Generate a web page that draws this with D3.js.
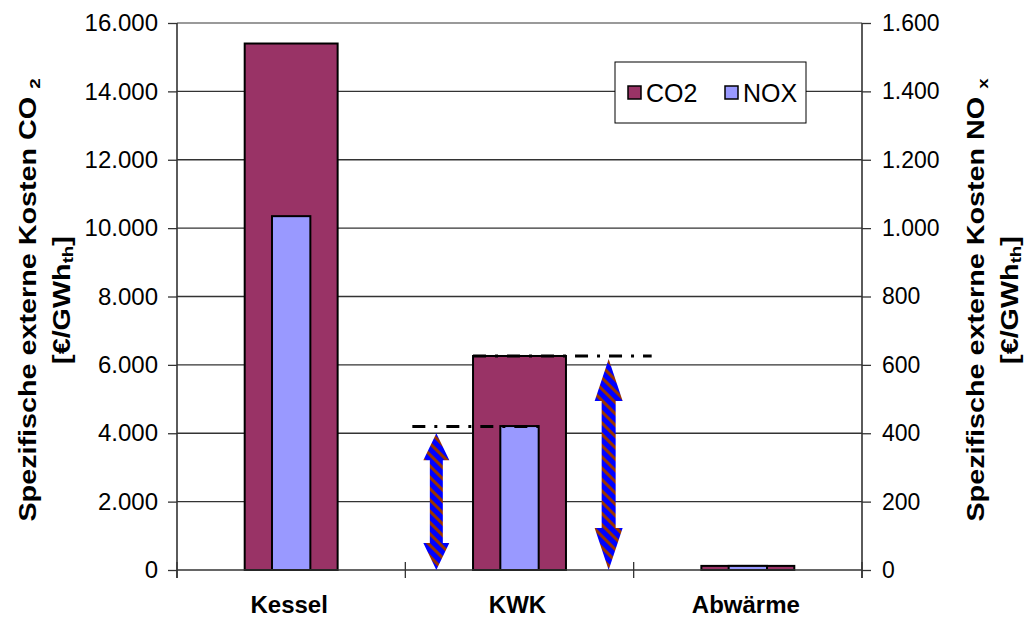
<!DOCTYPE html>
<html>
<head>
<meta charset="utf-8">
<script src="https://cdn.jsdelivr.net/npm/d3@7"></script>
<style>
  body { margin: 0; background: #fff; }
  svg { font-family: Arial, "Liberation Sans", sans-serif; }
</style>
</head>
<body>
<svg id="chart"></svg>
<script>
// data
var categories = ['Kessel', 'KWK', 'Abwärme'];
var co2 = [15400, 6260, 120];     // left axis, €/GWh_th
var nox = [1035, 421, 12];        // right axis, €/GWh_th
var leftTicks = [0, 2000, 4000, 6000, 8000, 10000, 12000, 14000, 16000];
var rightTicks = [0, 200, 400, 600, 800, 1000, 1200, 1400, 1600];
// reference levels (dash-dot) and the arrows under them
var refLevels = [4200, 6260];     // left-axis values
var arrowTops = [4000, 6170];

var W = 1027, H = 620;
var pL = 177, pR = 862, pT = 23, pB = 570;

var svg = d3.select('#chart').attr('width', W).attr('height', H);

var x = d3.scaleBand().domain(categories).range([pL, pR]);
var yL = d3.scaleLinear().domain([0, 16000]).range([pB, pT]);
var yR = d3.scaleLinear().domain([0, 1600]).range([pB, pT]);
var fmt = d3.format(',.0f');
var de = function(v){ return fmt(v).replace(/,/g, '.'); };

// stripe pattern for arrows
var defs = svg.append('defs');
var pat = defs.append('pattern')
  .attr('id', 'stripes')
  .attr('patternUnits', 'userSpaceOnUse')
  .attr('width', 8).attr('height', 8)
  .attr('patternTransform', 'rotate(45)');
pat.append('rect').attr('width', 8).attr('height', 8).attr('fill', '#0000ff');
pat.append('rect').attr('width', 8).attr('height', 3).attr('fill', '#993300');

// gridlines
svg.append('g').selectAll('line')
  .data(leftTicks.filter(d => d > 0))
  .enter().append('line')
  .attr('x1', pL).attr('x2', pR)
  .attr('y1', d => yL(d)).attr('y2', d => yL(d))
  .attr('stroke', d => d == 16000 ? '#9a9a9a' : '#333')
  .attr('stroke-width', d => d == 16000 ? 2 : 1.3);

// left axis
var axL = svg.append('g')
  .attr('transform', 'translate(' + pL + ',0)')
  .call(d3.axisLeft(yL).tickValues(leftTicks).tickFormat(de).tickSize(9).tickPadding(10));
axL.select('.domain').attr('stroke', '#333').attr('stroke-width', 1.6).attr('d', 'M0,' + pT + 'V' + (pB + 8));
axL.selectAll('.tick line').attr('stroke', '#333').attr('stroke-width', 1.3);
axL.selectAll('text').attr('font-size', 24).attr('fill', '#000').attr('font-family', 'Arial, "Liberation Sans", sans-serif');

// right axis
var axR = svg.append('g')
  .attr('transform', 'translate(' + pR + ',0)')
  .call(d3.axisRight(yR).tickValues(rightTicks).tickFormat(de).tickSize(9).tickPadding(11));
axR.select('.domain').attr('stroke', '#333').attr('stroke-width', 1.6).attr('d', 'M0,' + pT + 'V' + (pB + 8));
axR.selectAll('.tick line').attr('stroke', '#333').attr('stroke-width', 1.3);
axR.selectAll('text').attr('font-size', 23).attr('fill', '#000').attr('font-family', 'Arial, "Liberation Sans", sans-serif');

// bars
var bw = x.bandwidth();
var co2W = bw * 0.407, noxW = bw * 0.168;
svg.append('g').selectAll('rect')
  .data(co2).enter().append('rect')
  .attr('x', (d, i) => x(categories[i]) + (bw - co2W) / 2)
  .attr('y', d => yL(d))
  .attr('width', co2W)
  .attr('height', d => pB - yL(d))
  .attr('fill', '#993366').attr('stroke', '#000').attr('stroke-width', 2);
svg.append('g').selectAll('rect')
  .data(nox).enter().append('rect')
  .attr('x', (d, i) => x(categories[i]) + (bw - noxW) / 2)
  .attr('y', d => yR(d))
  .attr('width', noxW)
  .attr('height', d => pB - yR(d))
  .attr('fill', '#9999ff').attr('stroke', '#000').attr('stroke-width', 2);

// x axis
svg.append('line').attr('x1', pL).attr('x2', pR)
  .attr('y1', pB).attr('y2', pB).attr('stroke', '#333').attr('stroke-width', 1.6);
svg.append('g').selectAll('line')
  .data(categories.concat(['end'])).enter().append('line')
  .attr('x1', (d, i) => i < 3 ? x(d) : pR).attr('x2', (d, i) => i < 3 ? x(d) : pR)
  .attr('y1', pB - 8).attr('y2', pB + 8)
  .attr('stroke', '#333').attr('stroke-width', 1.3);
svg.append('g').selectAll('text')
  .data(categories).enter().append('text')
  .attr('x', d => x(d) + bw / 2 - 2)
  .attr('y', 613)
  .attr('text-anchor', 'middle')
  .attr('font-size', 24).attr('font-weight', 'bold')
  .text(d => d);

// dash-dot reference lines
var kwk = x('KWK');
var refSpans = [[kwk + 7, kwk + (bw + noxW) / 2], [kwk + (bw - co2W) / 2, kwk + bw + 18]];
svg.append('g').selectAll('line')
  .data(refLevels).enter().append('line')
  .attr('x1', (d, i) => refSpans[i][0]).attr('x2', (d, i) => refSpans[i][1])
  .attr('y1', d => yL(d)).attr('y2', d => yL(d))
  .attr('stroke', '#000').attr('stroke-width', 3)
  .attr('stroke-dasharray', '13,9,3,9');

// double-headed arrows
var arrowX = [kwk + 31, kwk + bw - 25];
var heads = [[27, 13, 6.5], [42, 14, 7]];
function arrowPath(cx, y0, y1, h) {
  var hl = h[0], hw = h[1], sw = h[2];
  return 'M' + cx + ',' + y0 +
    'L' + (cx + hw) + ',' + (y0 + hl) + 'L' + (cx + sw) + ',' + (y0 + hl) +
    'L' + (cx + sw) + ',' + (y1 - hl) + 'L' + (cx + hw) + ',' + (y1 - hl) +
    'L' + cx + ',' + y1 +
    'L' + (cx - hw) + ',' + (y1 - hl) + 'L' + (cx - sw) + ',' + (y1 - hl) +
    'L' + (cx - sw) + ',' + (y0 + hl) + 'L' + (cx - hw) + ',' + (y0 + hl) + 'Z';
}
svg.append('g').selectAll('path')
  .data(arrowTops).enter().append('path')
  .attr('d', (d, i) => arrowPath(arrowX[i], yL(d), yL(0), heads[i]))
  .attr('fill', 'url(#stripes)');

// legend
var lg = svg.append('g');
lg.append('rect').attr('x', 615).attr('y', 62).attr('width', 191).attr('height', 61)
  .attr('fill', '#fff').attr('stroke', '#000').attr('stroke-width', 1);
var legItems = [['CO2', '#993366', 628], ['NOX', '#9999ff', 725]];
legItems.forEach(function(it) {
  lg.append('rect').attr('x', it[2]).attr('y', 86).attr('width', 13).attr('height', 13)
    .attr('fill', it[1]).attr('stroke', '#000').attr('stroke-width', 1.5);
  lg.append('text').attr('x', it[2] + 18).attr('y', 102).attr('font-size', 25).text(it[0]);
});

// axis titles (reference text is stretched along its reading direction)
function title(cx, cy, main, sub) {
  var g = svg.append('g').attr('transform', 'translate(' + cx + ',' + cy + ') rotate(-90) scale(1.25,1)');
  var t = g.append('text').attr('text-anchor', 'middle').attr('font-size', 23)
    .attr('font-weight', 'bold');
  t.append('tspan').attr('x', 0).attr('y', -8).text(main[0]);
  t.append('tspan').attr('font-size', 15).attr('dy', 4).text(main[1]);
  var t2 = g.append('text').attr('text-anchor', 'middle').attr('font-size', 23)
    .attr('font-weight', 'bold');
  t2.append('tspan').attr('x', 0).attr('y', 26).text(sub[0]);
  t2.append('tspan').attr('font-size', 15).attr('dy', 3).text(sub[1]);
  t2.append('tspan').attr('dy', -3).text(sub[2]);
}
title(44, 300, ['Spezifische externe Kosten CO ', '2'], ['[€/GWh', 'th', ']']);
title(992, 300, ['Spezifische externe Kosten NO ', 'x'], ['[€/GWh', 'th', ']']);
</script>
</body>
</html>
